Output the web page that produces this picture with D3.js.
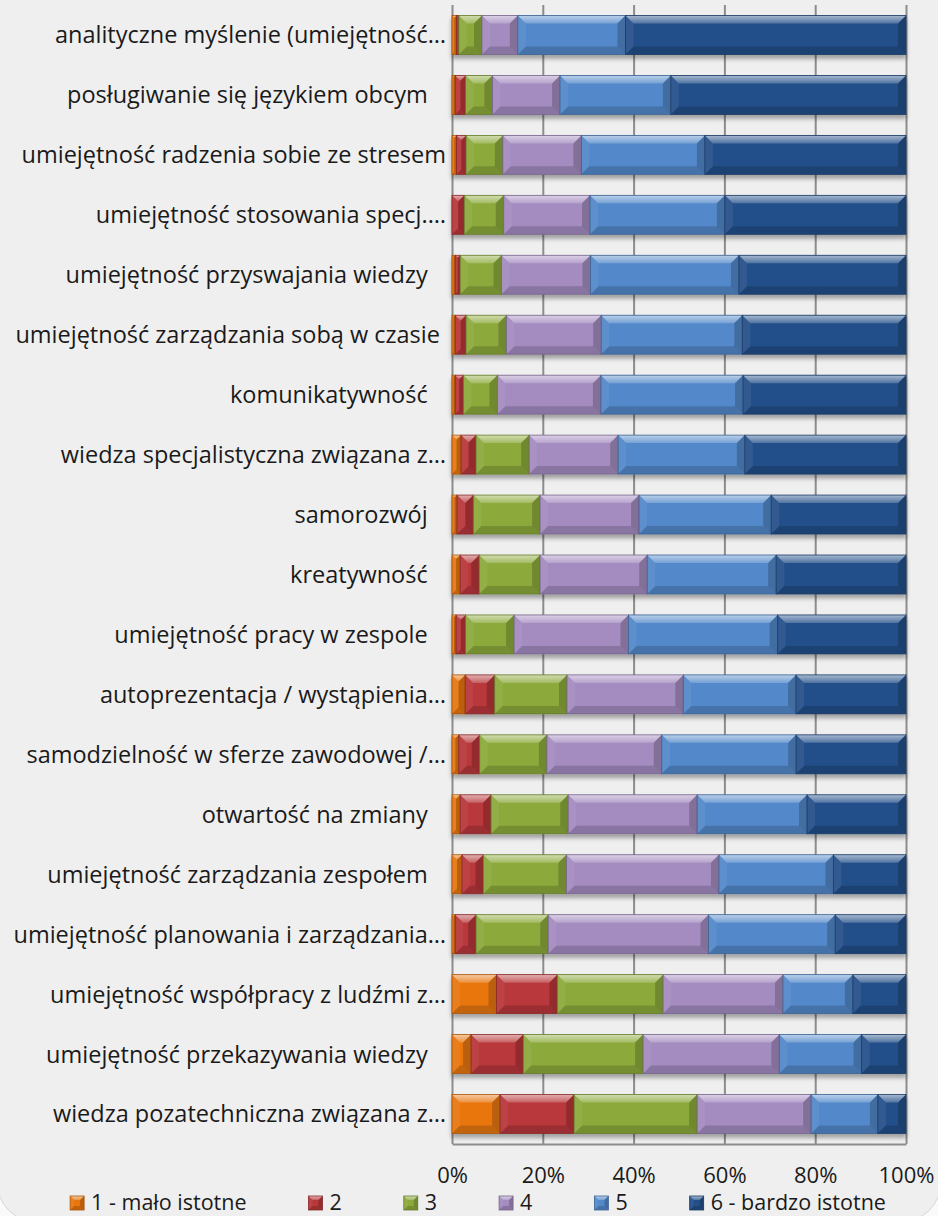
<!DOCTYPE html>
<html>
<head>
<meta charset="utf-8">
<script src="https://cdn.jsdelivr.net/npm/d3@7"></script>
<style>
    body { margin: 0; background: #fafafa; }
    svg { display: block; font-family: "Open Sans", sans-serif; }
</style>
</head>
<body>
<div id="chart"></div>
<script>
// categories top to bottom, as the chart shows them
const categories = [
    "analityczne myślenie (umiejętność…",
    "posługiwanie się językiem obcym   ",
    "umiejętność radzenia sobie ze stresem",
    "umiejętność stosowania specj.…",
    "umiejętność przyswajania wiedzy   ",
    "umiejętność zarządzania sobą w czasie ",
    "komunikatywność   ",
    "wiedza specjalistyczna związana z…",
    "samorozwój   ",
    "kreatywność   ",
    "umiejętność pracy w zespole   ",
    "autoprezentacja / wystąpienia…",
    "samodzielność w sferze zawodowej /…",
    "otwartość na zmiany   ",
    "umiejętność zarządzania zespołem   ",
    "umiejętność planowania i zarządzania…",
    "umiejętność współpracy z ludźmi z…",
    "umiejętność przekazywania wiedzy   ",
    "wiedza pozatechniczna związana z…"
];

const seriesNames = ["1 - mało istotne", "2", "3", "4", "5", "6 - bardzo istotne"];

// percent shares
const s1 = [1.0, 0.7, 1.0, 0.0, 0.7, 0.7, 0.7, 2.0, 1.1, 1.8, 0.9, 2.9, 1.5, 1.8, 2.2, 0.7, 9.8, 4.2, 10.6];
const s2 = [0.5, 2.3, 2.1, 2.7, 1.1, 2.4, 1.8, 3.3, 3.6, 4.2, 2.1, 6.5, 4.6, 6.8, 4.7, 4.6, 13.4, 11.5, 16.3];
const s3 = [5.1, 5.9, 8.1, 8.7, 9.1, 8.9, 7.5, 11.7, 14.7, 13.4, 10.7, 15.9, 14.8, 17.0, 18.3, 15.9, 23.3, 26.4, 27.1];
const s4 = [7.9, 14.9, 17.3, 19.0, 19.6, 20.9, 22.8, 19.6, 21.8, 23.6, 25.2, 25.6, 25.3, 28.4, 33.6, 35.3, 26.4, 30.0, 25.1];
const s5 = [23.7, 24.4, 27.2, 29.7, 32.7, 31.1, 31.3, 27.9, 29.1, 28.4, 32.9, 24.8, 29.6, 24.2, 25.2, 27.9, 15.4, 18.1, 14.7];
const s6 = [61.8, 51.8, 44.3, 39.9, 36.8, 36.1, 35.9, 35.5, 29.7, 28.6, 28.3, 24.2, 24.2, 21.8, 16.0, 15.6, 11.7, 9.8, 6.2];

const tickValues = [0, 0.2, 0.4, 0.6, 0.8, 1];

const palette = ["#e8760f", "#b8383a", "#8caa3b", "#a48bc0", "#5389ca", "#24508a"];

const width = 938, height = 1216;
const plotLeft = 452, plotRight = 906, plotTop = 5, plotBottom = 1144;

const allSeries = [s1, s2, s3, s4, s5, s6];
const rows = categories.map((c, i) => {
    let r = {cat: c};
    seriesNames.forEach((k, j) => r[k] = allSeries[j][i]);
    return r;
});

const stacked = d3.stack()
    .keys(seriesNames)
    .offset(d3.stackOffsetExpand)(rows);

const x = d3.scaleLinear().domain([0, 1]).range([plotLeft, plotRight]);
const y = d3.scaleBand().domain(categories).range([plotTop, plotBottom])
    .paddingInner(0.35).paddingOuter(0.175);

const svg = d3.select("#chart").append("svg")
    .attr("width", width)
    .attr("height", height);

const defs = svg.append("defs");
defs.append("filter").attr("id", "shadow")
    .attr("x", "-5%").attr("y", "-20%").attr("width", "110%").attr("height", "160%")
    .append("feDropShadow")
    .attr("dx", 0).attr("dy", 4).attr("stdDeviation", 2.2)
    .attr("flood-color", "#000").attr("flood-opacity", 0.33);

let topGrad = defs.append("linearGradient").attr("id", "topShine")
    .attr("x1", 0).attr("y1", 0).attr("x2", 0).attr("y2", 1);
topGrad.append("stop").attr("offset", "0%").attr("stop-color", "#fff").attr("stop-opacity", 0.6);
topGrad.append("stop").attr("offset", "100%").attr("stop-color", "#fff").attr("stop-opacity", 0.2);

// chart frame (rounded corner shows bottom left)
svg.append("rect")
    .attr("x", -3).attr("y", -30)
    .attr("width", 944).attr("height", 1252)
    .attr("rx", 40)
    .style("fill", "#efefef")
    .style("stroke", "#d6d6d6");

// grid + x axis
const xAxis = d3.axisBottom(x)
    .tickValues(tickValues)
    .tickFormat(d3.format(".0%"))
    .tickSize(-(plotBottom - plotTop))
    .tickSizeOuter(0);

const gx = svg.append("g")
    .attr("transform", "translate(0," + plotBottom + ")")
    .call(xAxis);

gx.select(".domain").style("stroke", "#8c8c8c").style("stroke-width", 2);
gx.selectAll(".tick line").style("stroke", "#8c8c8c").style("stroke-width", 2);
gx.selectAll(".tick text")
    .attr("y", 39)
    .attr("dy", 0)
    .style("font-size", "22px")
    .style("fill", "#1a1a1a");
gx.attr("font-family", null).attr("font-size", null);

// bevelled box like the Excel shape style
function bevelBox(g, x0, y0, w, h, color, b) {
    b = Math.min(b, w / 2, h / 2);
    g.append("rect")
        .attr("x", x0).attr("y", y0)
        .attr("width", w).attr("height", h)
        .style("fill", color);
    let pts = function (p) {
        return p.map(q => q.join(",")).join(" ");
    };
    // top
    g.append("polygon")
        .attr("points", pts([[x0, y0], [x0 + w, y0], [x0 + w - b, y0 + b], [x0 + b, y0 + b]]))
        .style("fill", "url(#topShine)");
    // bottom
    g.append("polygon")
        .attr("points", pts([[x0, y0 + h], [x0 + w, y0 + h], [x0 + w - b, y0 + h - b], [x0 + b, y0 + h - b]]))
        .style("fill", "#000").style("fill-opacity", 0.16);
    // left
    g.append("polygon")
        .attr("points", pts([[x0, y0], [x0 + b, y0 + b], [x0 + b, y0 + h - b], [x0, y0 + h]]))
        .style("fill", "#fff").style("fill-opacity", 0.06);
    // right
    g.append("polygon")
        .attr("points", pts([[x0 + w, y0], [x0 + w - b, y0 + b], [x0 + w - b, y0 + h - b], [x0 + w, y0 + h]]))
        .style("fill", "#000").style("fill-opacity", 0.2);
    g.append("rect")
        .attr("x", x0).attr("y", y0)
        .attr("width", w).attr("height", h)
        .style("fill", "none")
        .style("stroke", d3.color(color).darker(0.9))
        .style("stroke-width", 0.8);
}

// bars, one shadowed group per category
const rowGroups = svg.append("g").selectAll("g")
    .data(categories)
    .join("g")
    .attr("filter", "url(#shadow)");

rowGroups.each(function (cat, i) {
    let g = d3.select(this);
    stacked.forEach((layer, j) => {
        let d = layer[i];
        let x0 = x(d[0]), x1 = x(d[1]);
        if (x1 - x0 <= 0.1) return;
        bevelBox(g.append("g"), x0, y(cat), x1 - x0, y.bandwidth(), palette[j], 8);
    });
});

// category labels
svg.append("g").selectAll("text")
    .data(categories)
    .join("text")
    .attr("x", plotLeft - 6)
    .attr("y", d => y(d) + y.bandwidth() / 2)
    .attr("dy", "0.36em")
    .attr("text-anchor", "end")
    .style("white-space", "pre")
    .style("font-size", "23.5px")
    .style("fill", "#1a1a1a")
    .text(d => d);

// legend
const legend = svg.append("g");
let items = legend.selectAll("g")
    .data(seriesNames)
    .join("g");

items.append("text")
    .attr("x", 21)
    .attr("y", 0)
    .style("font-size", "21.5px")
    .style("fill", "#1a1a1a")
    .text(d => d);

let lx = 0, gap = 62, positions = [];
items.each(function (d, i) {
    positions.push(lx);
    let tw = d3.select(this).select("text").node().getComputedTextLength();
    lx += 21 + tw + gap;
});
let legendWidth = lx - gap;
let legendStart = 478 - legendWidth / 2;

items.attr("transform", (d, i) => "translate(" + (legendStart + positions[i]) + ",1210)");
items.each(function (d, i) {
    bevelBox(d3.select(this).insert("g", "text"), 0, -14, 14, 14, palette[i], 4);
});
</script>
</body>
</html>
